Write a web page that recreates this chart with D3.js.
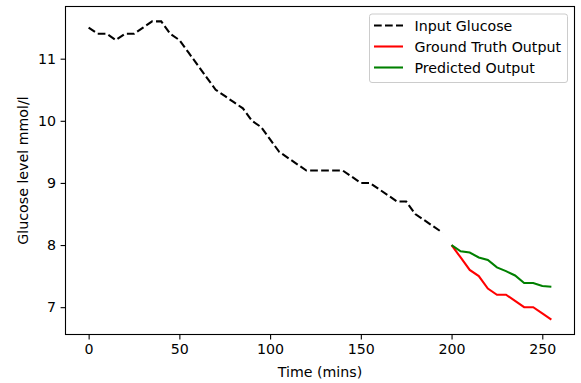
<!DOCTYPE html>
<html><head><meta charset="utf-8">
<script src="https://cdn.jsdelivr.net/npm/d3@7"></script>
<style>body{margin:0;background:#fff}svg{display:block}text{font-family:"DejaVu Sans",sans-serif;fill:#000}</style>
</head><body><svg id="c" width="581" height="383"></svg>
<script>
const inputTimes = d3.range(0, 200, 5);
const inputValues = [11.5,11.4,11.4,11.3,11.4,11.4,11.5,11.6,11.6,11.4,
  11.3,11.1,10.9,10.7,10.5,10.4,10.3,10.2,10.0,9.9,
  9.7,9.5,9.4,9.3,9.2,9.2,9.2,9.2,9.2,9.1,
  9.0,9.0,8.9,8.8,8.7,8.7,8.5,8.4,8.3,8.2];
const outputTimes = d3.range(200, 260, 5);
const truthValues = [8.0,7.8,7.6,7.5,7.3,7.2,7.2,7.1,7.0,7.0,6.9,6.8];
const predValues = [8.0,7.9,7.88,7.8,7.76,7.64,7.58,7.51,7.39,7.39,7.34,7.33];
const xTicks = [0,50,100,150,200,250];
const yTicks = [7,8,9,10,11];
const seriesNames = ["Input Glucose","Ground Truth Output","Predicted Output"];

const L=65.5, R=574.5, T=6.5, B=334.5;
const svg = d3.select("#c");
const x = d3.scaleLinear().domain([-12.75, 267.75]).range([L, R]);
const y = d3.scaleLinear().domain([6.56, 11.84]).range([B, T]);
const fs = 14.2;

const line = d3.line().x(d=>x(d[0])).y(d=>y(d[1]));
const lw = 2.08;
svg.append("path").datum(inputTimes.map((t,i)=>[t,inputValues[i]]))
  .attr("d", line).attr("fill","none").attr("stroke","#000").attr("stroke-width",lw)
  .attr("stroke-dasharray","7.7,3.3");
svg.append("path").datum(outputTimes.map((t,i)=>[t,truthValues[i]]))
  .attr("d", line).attr("fill","none").attr("stroke","#ff0000").attr("stroke-width",lw);
svg.append("path").datum(outputTimes.map((t,i)=>[t,predValues[i]]))
  .attr("d", line).attr("fill","none").attr("stroke","#008000").attr("stroke-width",lw);

const xAxis = svg.append("g").attr("transform",`translate(0,${B})`)
  .call(d3.axisBottom(x).tickValues(xTicks).tickFormat(d3.format("d")).tickSize(4.9).tickPadding(4.5));
const yAxis = svg.append("g").attr("transform",`translate(${L},0)`)
  .call(d3.axisLeft(y).tickValues(yTicks).tickFormat(d3.format("d")).tickSize(4.9).tickPadding(4.5));
[xAxis,yAxis].forEach(a=>{
  a.select(".domain").remove();
  a.selectAll("line").attr("stroke","#000").attr("stroke-width",1.1);
  a.selectAll("text").attr("font-size",fs).attr("font-family","DejaVu Sans").attr("fill","#000");
});
svg.append("rect").attr("x",L).attr("y",T).attr("width",R-L).attr("height",B-T)
  .attr("fill","none").attr("stroke","#000").attr("stroke-width",1.1);

svg.append("text").attr("x",(L+R)/2).attr("y",376.5).attr("text-anchor","middle")
  .attr("font-size",fs).text("Time (mins)");
svg.append("text").attr("transform",`translate(27.5,${(T+B)/2}) rotate(-90)`)
  .attr("text-anchor","middle").attr("font-size",fs).text("Glucose level mmol/l");

// legend
const lg = svg.append("g");
lg.append("rect").attr("x",369.5).attr("y",14).attr("width",198).attr("height",68.5)
  .attr("rx",2.5).attr("fill","#fff").attr("fill-opacity",0.8).attr("stroke","#ccc").attr("stroke-width",1);
const colors=["#000","#ff0000","#008000"];
seriesNames.forEach((n,i)=>{
  const yy = 25.5 + i*21;
  lg.append("line").attr("x1",374).attr("x2",403).attr("y1",yy).attr("y2",yy)
    .attr("stroke",colors[i]).attr("stroke-width",lw).attr("stroke-dasharray", i===0?"7.7,3.3":null);
  lg.append("text").attr("x",414.5).attr("y",yy+5).attr("font-size",fs).text(n);
});
</script></body></html>
